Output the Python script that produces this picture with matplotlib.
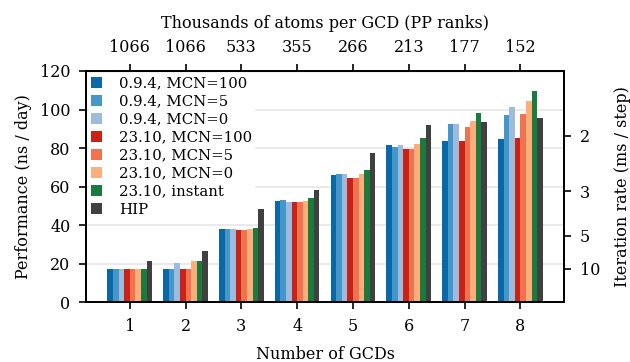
import numpy as np
import matplotlib
matplotlib.use("Agg")
import matplotlib.pyplot as plt

# ───────────── data ─────────────
gcds = [1, 2, 3, 4, 5, 6, 7, 8]
atoms_per_gcd = ["1066", "1066", "533", "355", "266", "213", "177", "152"]

series_labels = ["0.9.4, MCN=100", "0.9.4, MCN=5", "0.9.4, MCN=0",
                 "23.10, MCN=100", "23.10, MCN=5", "23.10, MCN=0",
                 "23.10, instant", "HIP"]

v094_mcn100 = [17.4, 17.4, 38.2, 52.6, 65.8, 81.4, 83.5, 84.5]
v094_mcn5   = [17.4, 17.4, 38.2, 53.3, 66.3, 80.4, 92.3, 97.0]
v094_mcn0   = [17.4, 20.5, 38.2, 52.2, 66.3, 81.4, 92.3, 101.2]
v2310_mcn100 = [17.4, 17.4, 37.6, 52.2, 64.7, 79.3, 83.5, 85.0]
v2310_mcn5   = [17.4, 17.4, 37.6, 52.2, 64.7, 79.3, 90.8, 97.5]
v2310_mcn0   = [17.4, 21.5, 38.0, 52.7, 66.8, 81.9, 93.9, 104.3]
v2310_inst   = [17.4, 21.5, 38.7, 54.3, 68.4, 85.0, 98.1, 109.5]
hip          = [21.5, 26.6, 48.6, 58.4, 77.2, 91.8, 93.4, 95.4]

iter_rate_ticks = [2, 3, 5, 10]   # ms / step, 2 fs timestep

colors = ["#0868a8", "#4596c9", "#9dbbdc",
          "#cb2218", "#f07350", "#fdae7b",
          "#1b7b3e", "#404040"]

# ───────────── plot ─────────────
plt.rcParams["font.family"] = "DejaVu Serif"
plt.rcParams["font.size"] = 11.5

fig = plt.figure(figsize=(6.3, 3.62), dpi=100)
ax = fig.add_axes([0.136, 0.165, 0.760, 0.639])

all_series = [v094_mcn100, v094_mcn5, v094_mcn0,
              v2310_mcn100, v2310_mcn5, v2310_mcn0, v2310_inst, hip]
x = np.array(gcds, dtype=float)
w = 0.1
for i, (vals, lbl, c) in enumerate(zip(all_series, series_labels, colors)):
    ax.bar(x + (i - 3.5) * w, vals, width=w, color=c, label=lbl, zorder=2)

ax.set_ylim(0, 120)
ax.set_yticks(np.arange(0, 121, 20))
ax.set_xticks(gcds)
ax.grid(axis="y", color="#e6e6e6", lw=1.2, zorder=0)
ax.set_axisbelow(True)
ax.set_xlabel("Number of GCDs", labelpad=8)
ax.set_ylabel("Performance (ns / day)", labelpad=6)
ax.tick_params(direction="out", length=5, width=1.2, pad=6)
for s in ax.spines.values():
    s.set_linewidth(1.3)
    s.set_color("black")

# top axis: atoms per GCD
top = ax.secondary_xaxis("top")
top.set_xticks(gcds)
top.set_xticklabels(atoms_per_gcd)
top.set_xlabel("Thousands of atoms per GCD (PP ranks)", labelpad=8)
top.tick_params(direction="out", length=5, width=1.2, pad=6)

# right axis: iteration rate
right = ax.twinx()
right.set_ylim(ax.get_ylim())
right.set_yticks([172.8 / t for t in iter_rate_ticks])
right.set_yticklabels([str(t) for t in iter_rate_ticks])
right.set_ylabel("Iteration rate (ms / step)", labelpad=10)
right.tick_params(direction="out", length=5, width=1.2, pad=6)
for s in right.spines.values():
    s.set_linewidth(1.3)

ax.legend(loc="upper left", frameon=True, facecolor="white", edgecolor="white",
          framealpha=1.0, fancybox=False, handlelength=0.75, handleheight=0.75,
          labelspacing=0.27, handletextpad=1.1, borderpad=0.12, borderaxespad=0.25,
          fontsize=10.7)

fig.savefig("out.png", dpi=100)
